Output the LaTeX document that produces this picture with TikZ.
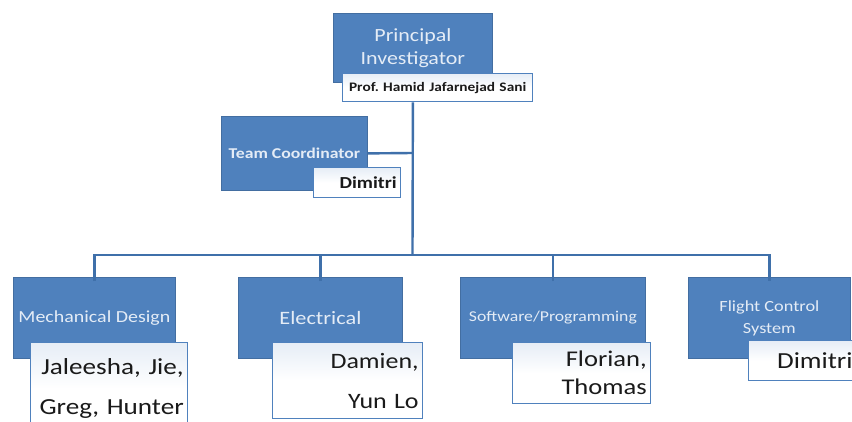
\documentclass[tikz,border=0pt]{standalone}
\usepackage{fontspec}
\setmainfont{Carlito}[FakeStretch=1.18]
\definecolor{orgblue}{HTML}{4F81BD}
\definecolor{orgline}{HTML}{3F70AA}
\definecolor{orgtext}{HTML}{E4ECF6}
\definecolor{orgtint}{HTML}{E6EDF6}
\definecolor{orgname}{HTML}{1A1A1A}

\begin{document}
\begin{tikzpicture}[x=1pt,y=-1pt,
  role/.style={draw=orgblue!85!black,fill=orgblue,text=orgtext,align=center,anchor=north west,inner sep=2pt,line width=0.8pt},
  who/.style={draw=orgblue,top color=orgtint,bottom color=white,middle color=white,text=orgname,anchor=north west,inner sep=4pt,line width=1.4pt},
  link/.style={draw=orgline,line width=2.4pt}]
\fill[white] (0,0) rectangle (852,421);
\clip (0,0) rectangle (852,421);
\useasboundingbox (0,0) rectangle (852,421);

% connectors first
\coordinate (bus) at (412.5,255);
\coordinate (tcend) at (412.5,153);

% principal investigator
\node[role,minimum width=159,minimum height=69,font=\fontsize{18.6}{23}\selectfont](pi) at (333,13){Principal\\Investigator};
\node[who,text width=182,minimum height=28,align=center,font=\bfseries\fontsize{13}{15}\selectfont](pin) at (342,73){Prof.\ Hamid Jafarnejad Sani};

% team coordinator
\node[role,minimum width=146,minimum height=74,font=\bfseries\fontsize{15}{18}\selectfont](tc) at (221,116){Team Coordinator};
\node[who,text width=79,minimum height=30,align=right,font=\bfseries\fontsize{16.8}{20}\selectfont](tcn) at (313,167){Dimitri};

% groups
\node[role,minimum width=162,minimum height=81,font=\fontsize{16.9}{20}\selectfont](mech) at (13,277){Mechanical Design};
\node[who,text width=149,minimum height=92,align=right,font=\fontsize{23}{40}\selectfont](mechn) at (30,342){Jaleesha, Jie,\\Greg, Hunter};

\node[role,minimum width=164,minimum height=81,font=\fontsize{18.9}{22}\selectfont](elec) at (238,277){Electrical};
\node[who,text width=142,minimum height=76,align=right,font=\fontsize{22}{40}\selectfont](elecn) at (272,342){Damien,\\Yun Lo};

\node[role,minimum width=185,minimum height=81,font=\fontsize{15}{18}\selectfont](soft) at (460,277){Software/Programming};
\node[who,text width=130,minimum height=61,align=right,font=\fontsize{22.5}{28}\selectfont](softn) at (512,342){Florian,\\Thomas};

\node[role,minimum width=162,minimum height=81,font=\fontsize{15.5}{22}\selectfont](fcs) at (688,277){Flight Control\\System};
\node[who,text width=100,minimum height=40,align=right,font=\fontsize{23}{26}\selectfont](fcsn) at (748,340){Dimitri};

% lines
\draw[link] (pi.south |- pin.south) -- (bus);
\draw[link] (tc.east) -- (tcend);
\draw[link] ([yshift=-4pt]mech.north) |- (bus) -| ([yshift=-4pt]fcs.north);
\foreach \g in {elec,soft}
  \draw[link] ([yshift=-4pt]\g.north) -- (\g.north |- bus);
\end{tikzpicture}
\end{document}
